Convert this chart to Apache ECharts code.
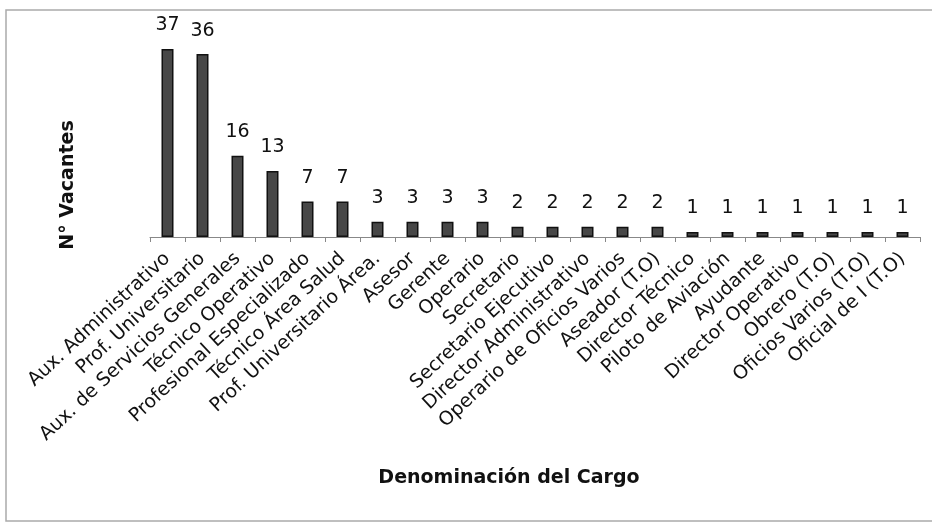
<!DOCTYPE html>
<html>
<head>
<meta charset="utf-8">
<script src="https://cdn.jsdelivr.net/npm/echarts@6/dist/echarts.min.js"></script>
<style>
  html, body { margin: 0; padding: 0; background: #fff; }
  #chart { width: 932px; height: 529px; }
</style>
</head>
<body>
<div id="chart"></div>
<script>
// cargos con vacantes
var cargos = [
    'Aux. Administrativo', 'Prof. Universitario', 'Aux. de Servicios Generales',
    'Técnico Operativo', 'Profesional Especializado', 'Técnico Área Salud',
    'Prof. Universitario Área.', 'Asesor', 'Gerente', 'Operario', 'Secretario',
    'Secretario Ejecutivo', 'Director Administrativo', 'Operario de Oficios Varios',
    'Aseador (T.O)', 'Director Técnico', 'Piloto de Aviación', 'Ayudante',
    'Director Operativo', 'Obrero (T.O)', 'Oficios Varios (T.O)', 'Oficial de I (T.O)'
];
var vacantes = [37, 36, 16, 13, 7, 7, 3, 3, 3, 3, 2, 2, 2, 2, 2, 1, 1, 1, 1, 1, 1, 1];

var myChart = echarts.init(document.getElementById('chart'));

var option = {
    animation: false,
    backgroundColor: '#fff',
    grid: {
        left: 150,
        right: 12,
        top: 49,
        bottom: 292
    },
    xAxis: {
        type: 'category',
        data: cargos,
        axisLine: { lineStyle: { color: '#888', width: 1 } },
        axisTick: { show: true, length: 5, lineStyle: { color: '#888' } },
        axisLabel: {
            interval: 0,
            rotate: 43,
            margin: 19,
            fontFamily: 'DejaVu Sans',
            fontSize: 19,
            color: '#111'
        }
    },
    yAxis: {
        type: 'value',
        min: 0,
        max: 37,
        show: false,
        splitLine: { show: false }
    },
    series: [
        {
            type: 'bar',
            data: vacantes,
            barWidth: 12,
            itemStyle: {
                color: '#474747',
                borderColor: '#111',
                borderWidth: 1.5
            },
            label: {
                show: true,
                position: 'top',
                distance: 14,
                fontFamily: 'DejaVu Sans',
                fontSize: 19,
                color: '#111'
            }
        }
    ],
    graphic: [
        {
            type: 'rect',
            shape: { x: 6, y: 10, width: 940, height: 511 },
            style: { fill: 'none', stroke: '#aaa', lineWidth: 1.5 }
        },
        {
            type: 'text',
            x: 68,
            y: 185,
            rotation: Math.PI / 2,
            style: {
                text: 'N° Vacantes',
                fontFamily: 'DejaVu Sans',
                fontWeight: 'bold',
                fontSize: 19,
                fill: '#111',
                align: 'center',
                verticalAlign: 'middle'
            }
        },
        {
            type: 'text',
            x: 509,
            y: 478,
            style: {
                text: 'Denominación del Cargo',
                fontFamily: 'DejaVu Sans',
                fontWeight: 'bold',
                fontSize: 19,
                fill: '#111',
                align: 'center',
                verticalAlign: 'middle'
            }
        }
    ]
};
myChart.setOption(option);
</script>
</body>
</html>
